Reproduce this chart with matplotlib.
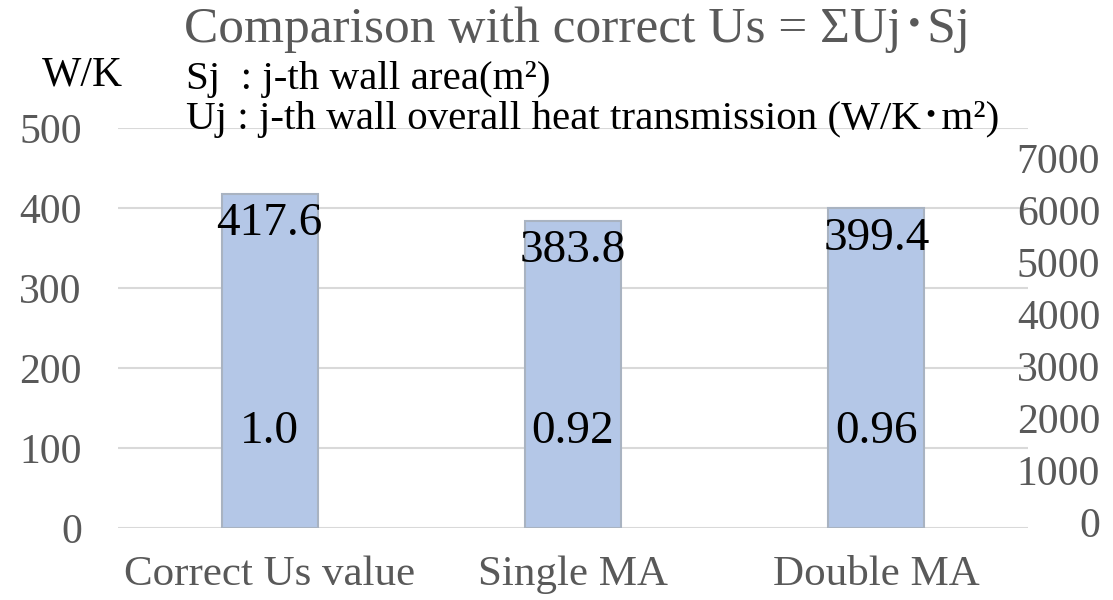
import matplotlib
matplotlib.use("Agg")
import matplotlib.pyplot as plt
import numpy as np

categories = ["Correct Us value", "Single MA", "Double MA"]
us_values = [417.6, 383.8, 399.4]
ratio_labels = ["1.0", "0.92", "0.96"]
left_ticks = [0, 100, 200, 300, 400, 500]
right_ticks = [0, 1000, 2000, 3000, 4000, 5000, 6000, 7000]

SERIF = ["Liberation Serif", "Noto Sans CJK JP", "DejaVu Sans"]
plt.rcParams["font.family"] = SERIF
GREY = "#595959"

W, H = 1113, 600
fig = plt.figure(figsize=(W / 100, H / 100), dpi=100)
ax = fig.add_axes([118 / W, 72 / H, 910 / W, 400 / H])

x = np.arange(len(categories))
ax.bar(x, us_values, width=0.316, color="#B4C7E7", edgecolor="#A9B3C1",
       linewidth=1.5, zorder=3)
ax.set_xlim(-0.5, len(categories) - 0.5)
ax.set_ylim(0, 500)
ax.set_yticks(left_ticks)
ax.yaxis.grid(True, color="#D9D9D9", linewidth=1.5, zorder=0)
ax.set_axisbelow(True)
for s in ax.spines.values():
    s.set_visible(False)
ax.tick_params(axis="y", length=0, pad=26, labelsize=30, labelcolor=GREY)
ax.set_xticks(x)
ax.set_xticklabels(categories)
ax.tick_params(axis="x", length=0, pad=20, labelsize=31, labelcolor=GREY)

for i, v in enumerate(us_values):
    ax.annotate(f"{v}", (i, v), xytext=(0, -30), textcoords="offset pixels",
                ha="center", va="center", fontsize=34, color="black", zorder=5)
RATIO_Y = 120
for i, r in enumerate(ratio_labels):
    ax.text(i, RATIO_Y, r, ha="center", va="center", fontsize=34,
            color="black", zorder=5)

ax2 = ax.twinx()
ax2.set_ylim(-115, 7577)
ax2.set_yticks(right_ticks)
for s in ax2.spines.values():
    s.set_visible(False)
ax2.tick_params(axis="y", length=0, pad=52, labelsize=30, labelcolor=GREY)
for lab in ax2.get_yticklabels():
    lab.set_horizontalalignment("right")

fig.text(42 / W, 1 - 75 / H, "W/K", fontsize=30, va="center", ha="left")
fig.text(184 / W, 1 - 30 / H, "Comparison with correct Us = ΣUj･Sj",
         fontsize=37, color=GREY, va="center", ha="left")
fig.text(186 / W, 1 - 80 / H, "Sj  : j-th wall area(m²)",
         fontsize=29.5, color="black", va="center", ha="left")
fig.text(186 / W, 1 - 120 / H, "Uj : j-th wall overall heat transmission (W/K･m²)",
         fontsize=29.5, color="black", va="center", ha="left")

fig.savefig("out.png", dpi=100)
